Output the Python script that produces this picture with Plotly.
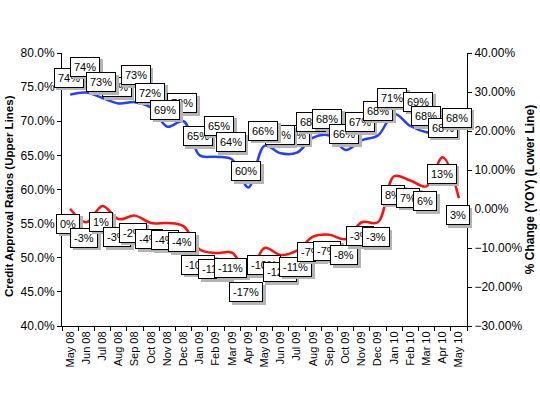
import plotly.graph_objects as go

# ---- data ----
months = ["May 08", "Jun 08", "Jul 08", "Aug 08", "Sep 08", "Oct 08", "Nov 08", "Dec 08",
          "Jan 09", "Feb 09", "Mar 09", "Apr 09", "May 09", "Jun 09", "Jul 09", "Aug 09",
          "Sep 09", "Oct 09", "Nov 09", "Dec 09", "Jan 10", "Feb 10", "Mar 10", "Apr 10", "May 10"]
approval_ratio = [73.9, 74.2, 73.4, 72.6, 72.8, 72.0, 69.2, 70.0, 65.0, 64.8, 64.4, 60.3,
                  66.4, 65.3, 65.4, 67.6, 67.9, 65.8, 67.2, 67.9, 71.1, 69.3, 68.4, 68.2, 68.2]
yoy_change = [0.05, -3.4, 0.8, -2.6, -1.7, -3.6, -3.6, -4.4, -10.4, -11.3, -11.2, -17.0,
              -10.0, -11.8, -10.7, -7.1, -6.6, -7.7, -3.4, -3.4, 8.4, 7.3, 5.8, 13.3, 2.8]

# ---- label placement (pixel offsets from each point: dx right, dy down) ----
blue_dx = [-1.5, -1, -1.5, -2, 1, -1, -2, -1.5, -2, 3.5, -1.5, -2, -1.5, -1, -2, -2,
           -2, -1.5, -2, 0.5, -2, 8, -0.5, 0, -2]
blue_dy = [-17, -26, -16, -16.5, -27, -15, -17, -18, -19, -31, -17, -16, -15, -18, -18, -16,
           -17, -15.5, -18, -25, -16, -24.5, -16, -6, -16]
red_dx = [-2, -2, -1.5, -1.5, -2, -2, -2, -1.5, -1.5, -1, -1.5, -2, -0.5, -1, -1, -2,
          -2, -1.5, -2, -2, -1.5, -2, -1.5, -1, -1]
red_dy = [15, 15.6, 16, 18, 17, 16, 17, 16, 15, 16, 15, 17, 17, 17, 16, 15,
          16, 16, 14, 15, 18.5, 17, 15, 16.5, 17]
blue_order = [0, 1, 3, 2, 4, 5, 7, 6, 8, 9, 10, 11, 14, 13, 12, 15, 16, 17, 18, 19, 20, 21, 22, 23, 24]
red_order = list(range(len(months)))

FONT = "Liberation Sans, Arial, sans-serif"
BLUE = "#2440ff"
RED = "#ff1010"

fig = go.Figure()
fig.add_trace(go.Scatter(x=months, y=approval_ratio, mode="lines", yaxis="y",
                         line=dict(color=BLUE, width=2.5, shape="spline", smoothing=1.0),
                         showlegend=False, hoverinfo="skip"))
fig.add_trace(go.Scatter(x=months, y=yoy_change, mode="lines", yaxis="y2",
                         line=dict(color=RED, width=2.5, shape="spline", smoothing=1.0),
                         showlegend=False, hoverinfo="skip"))

annotations = []


def add_label(xcat, yval, yref, dx, dy):
    txt = f"{round(yval):d}%"
    common = dict(x=xcat, y=yval, xref="x", yref=yref, text=txt, showarrow=False,
                  borderpad=3, borderwidth=1)
    sh = dict(common)
    sh.update(xshift=dx + 2.5, yshift=-dy - 2.5, bgcolor="#b4b4b4",
              bordercolor="#b4b4b4", font=dict(family=FONT, size=11, color="#b4b4b4"))
    annotations.append(sh)
    bx = dict(common)
    bx.update(xshift=dx, yshift=-dy, bgcolor="white", bordercolor="black",
              font=dict(family=FONT, size=11, color="black"))
    annotations.append(bx)


for i in blue_order:
    add_label(months[i], approval_ratio[i], "y", blue_dx[i], blue_dy[i])
for i in red_order:
    add_label(months[i], yoy_change[i], "y2", red_dx[i], red_dy[i])

# left axis title
annotations.append(dict(text="<b>Credit Approval Ratios (Upper Lines)</b>", xref="paper", yref="paper",
                        x=-0.131, y=0.476, xanchor="center", yanchor="middle", textangle=-90,
                        showarrow=False, font=dict(family=FONT, size=11.5, color="black")))

axis_common = dict(showline=True, linecolor="black", linewidth=1, showgrid=False, zeroline=False,
                   ticks="outside", ticklen=4, tickcolor="black", tickwidth=1, automargin=False,
                   tickfont=dict(family=FONT, size=12, color="black"))

fig.update_layout(
    width=540, height=395,
    margin=dict(l=62, r=73, t=53, b=69),
    paper_bgcolor="white", plot_bgcolor="white",
    showlegend=False,
    xaxis=dict(type="category", categoryorder="array", categoryarray=months,
               range=[-0.5, len(months) - 0.5], tickson="boundaries", tickangle=-90,
               showline=True, linecolor="black", linewidth=1, showgrid=False, zeroline=False,
               ticks="outside", ticklen=4, tickcolor="black", automargin=False,
               tickfont=dict(family=FONT, size=11, color="black")),
    yaxis=dict(range=[40, 80], dtick=5, tickformat=".1f", ticksuffix="%", **axis_common),
    yaxis2=dict(range=[-30, 40], dtick=10, tickformat=".2f", ticksuffix="%", overlaying="y",
                side="right",
                title=dict(text="<b>% Change (YOY) (Lower Line)</b>", standoff=4,
                           font=dict(family=FONT, size=12, color="black")),
                **axis_common),
    yaxis3=dict(range=[-30, 40], dtick=10, overlaying="y", side="right", showline=False,
                showgrid=False, zeroline=False, ticks="inside", ticklen=4, tickcolor="black",
                showticklabels=False, automargin=False),
    annotations=annotations,
)

fig.write_html("out.html", config={"displayModeBar": False},
               post_script="document.body.style.margin='0';")
